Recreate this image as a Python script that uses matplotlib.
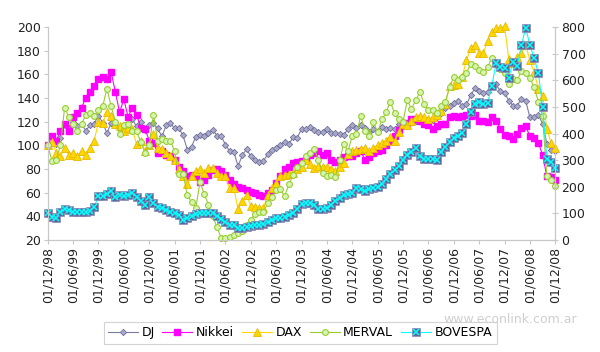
import matplotlib
matplotlib.use("Agg")
import matplotlib.pyplot as plt
import numpy as np

# monthly index values, 01/12/98 = 100 (one row per year, Dec..Nov)
dj = [100, 101.9, 101.4, 106.6, 117.5, 115.0, 119.5, 116.1, 117.9, 112.6, 116.9, 118.5,
      125.2, 119.2, 110.3, 119.0, 116.9, 114.6, 113.8, 114.6, 122.2, 116.0, 119.5, 113.4,
      117.5, 118.6, 114.3, 107.6, 116.9, 118.9, 114.4, 114.6, 108.4, 96.4, 98.8, 107.3,
      109.2, 108.0, 110.1, 113.3, 108.3, 108.1, 100.7, 95.2, 94.4, 82.7, 91.5, 96.9,
      90.9, 87.7, 85.9, 87.0, 92.4, 96.4, 97.9, 100.6, 102.6, 101.0, 106.8, 106.5,
      113.9, 114.2, 115.3, 112.8, 111.4, 111.0, 113.7, 110.4, 110.8, 109.8, 109.2, 113.6,
      117.4, 114.3, 117.3, 114.4, 111.0, 114.0, 111.9, 115.9, 114.2, 115.1, 113.7, 117.7,
      116.7, 118.3, 119.7, 121.0, 123.8, 121.6, 121.4, 121.8, 124.0, 127.2, 131.6, 133.1,
      135.7, 137.5, 133.6, 134.6, 142.3, 148.4, 146.1, 143.9, 145.5, 151.4, 151.7, 145.6,
      144.5, 137.8, 133.6, 133.6, 139.6, 137.7, 123.6, 123.9, 125.7, 118.2, 101.6, 96.2,
      95.6]

nikkei = [100, 108, 104, 112, 118, 112, 124, 127, 132, 140, 145, 150,
          156, 158, 156, 162, 145, 128, 139, 124, 132, 126, 115, 114,
          104, 102, 94, 95, 92, 91, 88, 82, 78, 74, 75, 74,
          69, 71, 75, 79, 80, 78, 75, 71, 67, 65, 64, 62,
          61, 60, 58, 57, 60, 62, 68, 74, 80, 82, 85, 86,
          87, 88, 92, 94, 95, 92, 94, 88, 86, 88, 90, 91,
          91, 94, 95, 88, 90, 94, 95, 96, 100, 104, 108, 113,
          117, 119, 122, 122, 121, 118, 117, 114, 116, 118, 118, 124,
          125, 124, 125, 126, 125, 126, 121, 121, 120, 124, 121, 114,
          109, 108, 105, 110, 115, 116, 108, 106, 102, 92, 74, 73,
          71]

dax = [100, 103, 94, 91, 98, 92, 94, 91, 95, 92, 98, 104,
       120, 119, 128, 125, 118, 116, 112, 115, 114, 101, 104, 95,
       100, 110, 98, 97, 94, 91, 88, 80, 74, 67, 74, 78,
       80, 77, 81, 81, 77, 74, 74, 64, 64, 46, 53, 58,
       49, 48, 47, 47, 58, 64, 68, 74, 75, 76, 77, 80,
       82, 88, 84, 81, 83, 82, 82, 80, 78, 82, 85, 93,
       95, 96, 97, 98, 95, 98, 100, 102, 104, 107, 104, 111,
       118, 117, 121, 124, 125, 124, 122, 124, 126, 129, 135, 150,
       151, 152, 158, 172, 182, 185, 178, 178, 188, 196, 199, 199,
       201, 173, 170, 175, 178, 185, 172, 162, 148, 142, 114, 102,
       98]

merval = [100, 87, 88, 100, 132, 124, 118, 112, 118, 126, 127, 125,
          130, 133, 148, 133, 120, 110, 117, 118, 112, 112, 103, 94,
          100, 126, 104, 105, 104, 104, 95, 76, 76, 58, 52, 47,
          69, 59, 50, 40, 31, 22, 22, 23, 24, 26, 28, 33,
          37, 42, 44, 44, 51, 56, 62, 63, 57, 67, 75, 82,
          85, 91, 94, 97, 88, 77, 74, 75, 73, 88, 101, 95,
          108, 110, 125, 112, 108, 120, 111, 122, 128, 137, 127, 122,
          120, 138, 131, 138, 145, 135, 130, 130, 127, 133, 137, 149,
          158, 155, 158, 161, 169, 167, 164, 162, 166, 174, 169, 165,
          161, 152, 156, 155, 163, 161, 157, 149, 137, 125, 74, 71,
          66]

# right axis
bovespa = [100, 88, 84, 106, 118, 114, 107, 104, 106, 107, 110, 126,
           164, 166, 172, 186, 160, 170, 164, 170, 176, 160, 146, 130,
           160, 140, 126, 120, 114, 107, 102, 94, 76, 82, 92, 97,
           100, 100, 101, 100, 92, 80, 68, 58, 56, 44, 45, 48,
           52, 56, 57, 62, 68, 75, 82, 82, 87, 93, 102, 118,
           135, 140, 139, 133, 116, 118, 121, 133, 145, 158, 168, 172,
           178, 196, 190, 184, 190, 196, 200, 212, 228, 248, 264, 278,
           300, 318, 332, 345, 316, 303, 303, 304, 302, 330, 350, 368,
           384, 392, 404, 436, 480, 512, 518, 512, 514, 580, 664, 650,
           645, 610, 670, 655, 733, 796, 733, 683, 627, 501, 305, 292,
           270]

tick_labels = ["01/12/98", "01/06/99", "01/12/99", "01/06/00", "01/12/00", "01/06/01",
               "01/12/01", "01/06/02", "01/12/02", "01/06/03", "01/12/03", "01/06/04",
               "01/12/04", "01/06/05", "01/12/05", "01/06/06", "01/12/06", "01/06/07",
               "01/12/07", "01/06/08", "01/12/08"]

months = np.arange(len(dj))
axis_grey = "#c8c8c8"

fig = plt.figure(figsize=(6, 3.52), dpi=100)
ax = fig.add_axes([0.0795, 0.318, 0.846, 0.605])
ax2 = ax.twinx()

l_dj, = ax.plot(months, dj, color="#7c7ca6", lw=0.8, marker="D", ms=3.2,
                mfc="#a9a9c9", mec="#6f6f9c", mew=0.6, label="DJ", clip_on=False)
l_nk, = ax.plot(months, nikkei, color="#ff00ff", lw=0.8, marker="s", ms=4.4,
                mfc="#ff00ff", mec="#ff00ff", label="Nikkei", clip_on=False)
l_dax, = ax.plot(months, dax, color="#ffd700", lw=0.8, marker="^", ms=5.2,
                 mfc="#ffd700", mec="#e8b800", mew=0.6, label="DAX", clip_on=False)
l_mv, = ax.plot(months, merval, color="#99cc33", lw=0.8, marker="o", ms=4.2,
                mfc="#d6f5b0", mec="#99cc33", mew=0.8, label="MERVAL", clip_on=False)
l_bv, = ax2.plot(months, bovespa, color="#00ffff", lw=0.8, marker="s", ms=6.2,
                 mfc="#64649a", mec="#8a8ab8", mew=0.5, clip_on=False)
l_bx, = ax2.plot(months, bovespa, ls="none", marker="x", ms=4.5, color="#00ffff",
                 mew=1.1, clip_on=False)

ax.set_xlim(0, 120)
ax.set_ylim(20, 200)
ax.set_yticks(np.arange(20, 201, 20))
ax2.set_ylim(0, 800)
ax2.set_yticks(np.arange(0, 801, 100))
ax.set_xticks(np.arange(0, 121, 6))
ax.set_xticklabels(tick_labels, rotation=90)

for a in (ax, ax2):
    a.spines["top"].set_visible(False)
    for s in ("left", "right", "bottom"):
        a.spines[s].set_color(axis_grey)
        a.spines[s].set_linewidth(0.8)
    a.tick_params(colors=axis_grey, labelcolor="#222222", labelsize=9, length=3, width=0.8)
ax2.tick_params(axis="y", direction="inout", length=5, pad=2)
ax.tick_params(axis="y", pad=2)
ax.tick_params(axis="x", pad=2)

leg = fig.legend([l_dj, l_nk, l_dax, l_mv, (l_bv, l_bx)],
                 ["DJ", "Nikkei", "DAX", "MERVAL", "BOVESPA"],
                 loc="center", bbox_to_anchor=(0.5, 0.054), ncol=5, fontsize=9,
                 frameon=True, fancybox=False, edgecolor=axis_grey, handlelength=2.4,
                 handletextpad=0.3, columnspacing=0.6, borderpad=0.35)
leg.get_frame().set_linewidth(0.8)

fig.text(0.962, 0.092, "www.econlink.com.ar", ha="right", va="center",
         fontsize=9, color="#cfcfcf")

fig.savefig("out.png", dpi=100)
